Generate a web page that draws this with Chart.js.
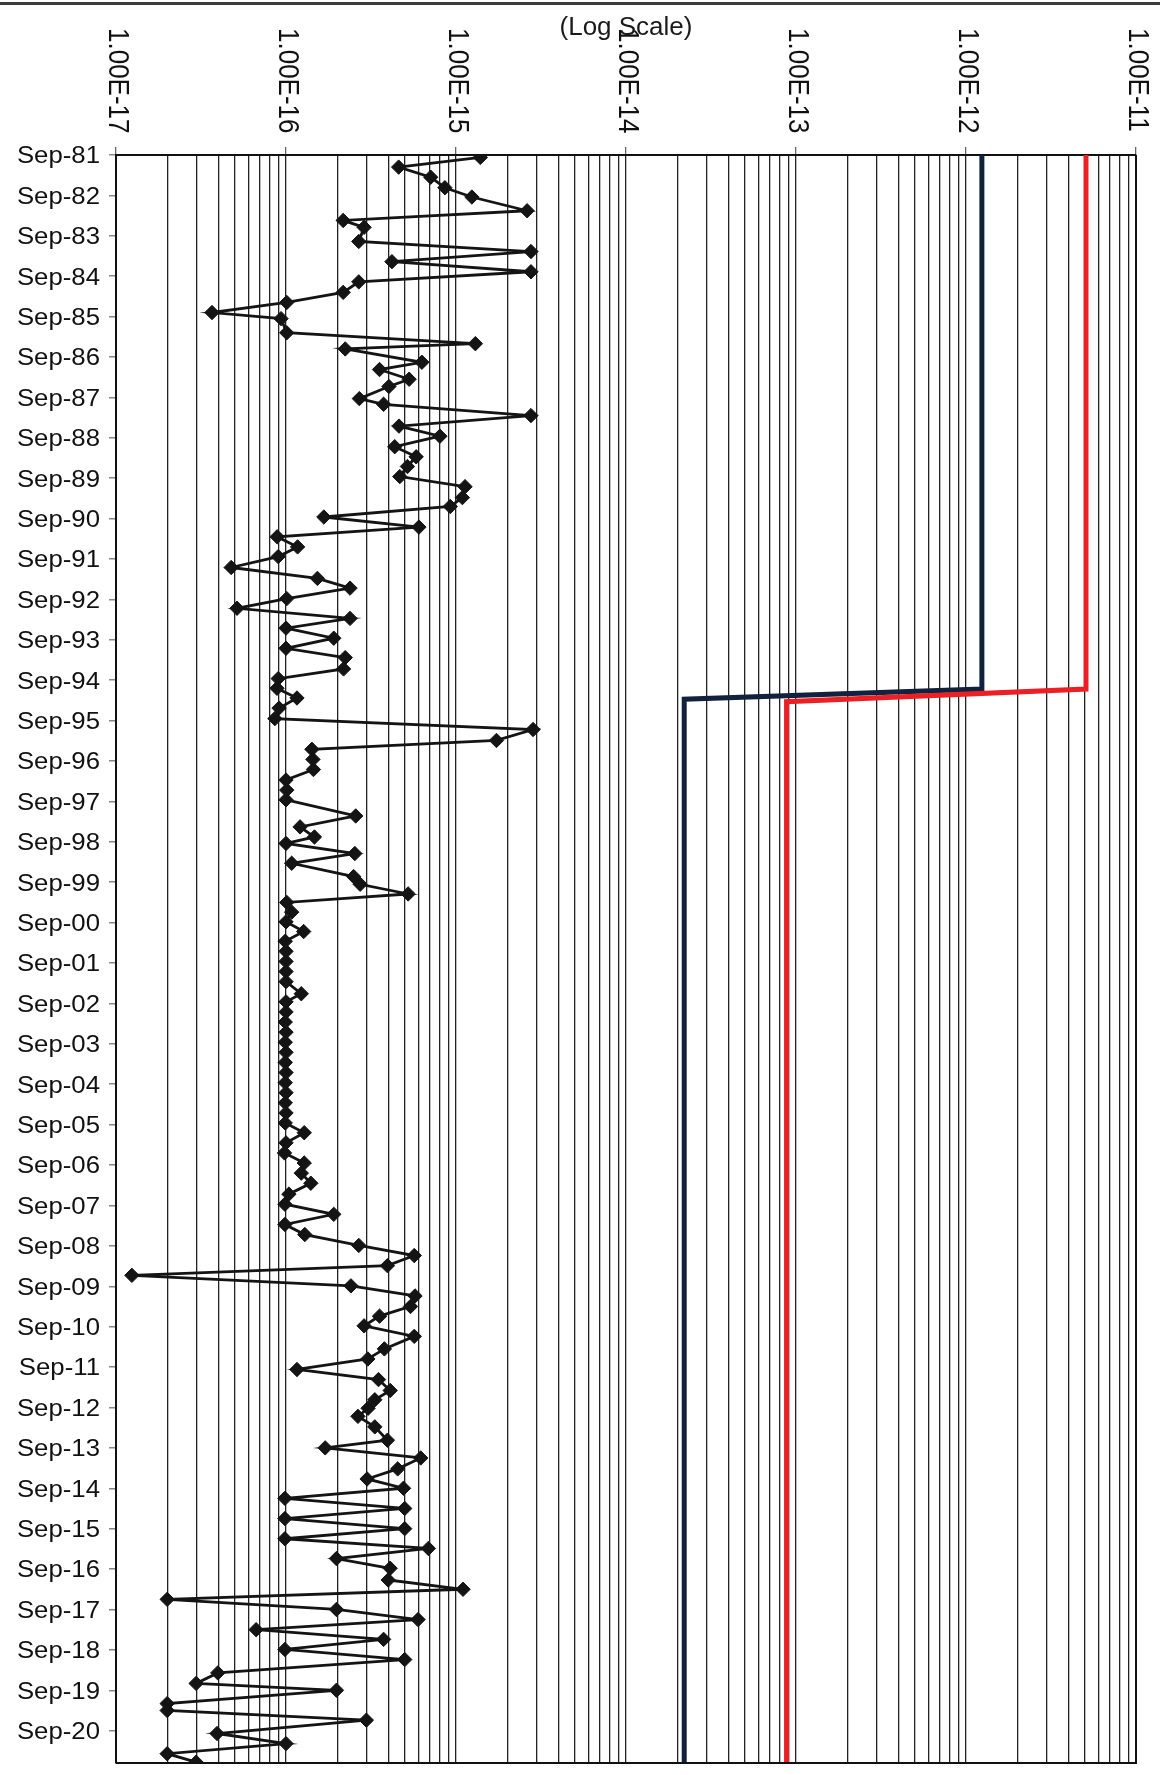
<!DOCTYPE html>
<html>
<head>
<meta charset="utf-8">
<script src="https://cdn.jsdelivr.net/npm/chart.js@4.4.0/dist/chart.umd.min.js"></script>
<style>
  html, body { margin: 0; padding: 0; background: #ffffff; }
  #wrap { position: relative; width: 1160px; height: 1775px; }
  canvas { display: block; }
</style>
</head>
<body>
<div id="wrap"><canvas id="chart" width="1160" height="1775"></canvas></div>
<script>
// ---------------- DATA ----------------
// y-axis category ticks (September of each year)
const yTickLabels = [
  'Sep-81','Sep-82','Sep-83','Sep-84','Sep-85','Sep-86','Sep-87','Sep-88','Sep-89','Sep-90',
  'Sep-91','Sep-92','Sep-93','Sep-94','Sep-95','Sep-96','Sep-97','Sep-98','Sep-99','Sep-00',
  'Sep-01','Sep-02','Sep-03','Sep-04','Sep-05','Sep-06','Sep-07','Sep-08','Sep-09','Sep-10',
  'Sep-11','Sep-12','Sep-13','Sep-14','Sep-15','Sep-16','Sep-17','Sep-18','Sep-19','Sep-20'
];
const firstTickYear = 1981.67;   // Sep-81 as decimal year
const lastAxisYear = 2021.47;    // bottom of the time axis

// x-axis (log) decade ticks and their labels
const xTickValues = [1e-17, 1e-16, 1e-15, 1e-14, 1e-13, 1e-12, 1e-11];
const xTickLabels = ['1.00E-17','1.00E-16','1.00E-15','1.00E-14','1.00E-13','1.00E-12','1.00E-11'];

// measured series: sample date (decimal year) and value
const sampleYears = [
  1981.73,1981.97,1982.22,1982.48,1982.71,1983.05,1983.29,1983.46,1983.81,1984.06,
  1984.31,1984.56,1984.81,1985.07,1985.32,1985.57,1985.72,1986.07,1986.34,1986.47,
  1986.80,1986.98,1987.22,1987.40,1987.70,1987.84,1988.12,1988.38,1988.63,1988.89,
  1989.14,1989.38,1989.63,1989.88,1990.15,1990.37,1990.63,1990.88,1991.12,1991.37,
  1991.61,1991.88,1992.15,1992.39,1992.65,1992.89,1993.14,1993.38,1993.63,1993.88,
  1994.11,1994.39,1994.63,1994.87,1995.11,1995.36,1995.62,1995.89,1996.16,1996.38,
  1996.63,1996.88,1997.14,1997.39,1997.63,1998.03,1998.30,1998.55,1998.71,1998.96,
  1999.20,1999.53,1999.72,1999.96,2000.17,2000.41,2000.65,2000.89,2001.13,2001.38,
  2001.63,2001.88,2002.13,2002.43,2002.63,2002.88,2003.13,2003.38,2003.63,2003.88,
  2004.13,2004.38,2004.63,2004.88,2005.13,2005.38,2005.63,2005.87,2006.12,2006.37,
  2006.62,2006.87,2007.12,2007.39,2007.64,2007.89,2008.14,2008.39,2008.66,2008.91,
  2009.16,2009.40,2009.66,2009.91,2010.17,2010.41,2010.65,2010.91,2011.22,2011.47,
  2011.73,2011.98,2012.25,2012.48,2012.69,2012.89,2013.15,2013.48,2013.67,2013.92,
  2014.19,2014.44,2014.67,2014.92,2015.17,2015.42,2015.67,2015.92,2016.16,2016.41,
  2016.65,2016.94,2017.17,2017.42,2017.67,2017.92,2018.17,2018.41,2018.66,2018.91,
  2019.24,2019.50,2019.67,2020.00,2020.17,2020.41,2020.74,2020.99,2021.24,2021.45
];
const sampleValues = [
  1.39e-15,4.6e-16,7.1e-16,8.6e-16,1.24e-15,2.62e-15,2.17e-16,2.88e-16,2.68e-16,2.76e-15,
  4.2e-16,2.76e-15,2.68e-16,2.17e-16,1.01e-16,3.67e-17,9.35e-17,1.01e-16,1.30e-15,2.23e-16,
  6.3e-16,3.55e-16,5.3e-16,4.03e-16,2.7e-16,3.75e-16,2.76e-15,4.62e-16,8.04e-16,4.36e-16,
  5.83e-16,5.18e-16,4.67e-16,1.13e-15,1.09e-15,9.25e-16,1.67e-16,6.05e-16,8.87e-17,1.17e-16,
  9.0e-17,4.76e-17,1.53e-16,2.38e-16,1.01e-16,5.15e-17,2.38e-16,1.0e-16,1.91e-16,1.0e-16,
  2.23e-16,2.18e-16,9.0e-17,8.85e-17,1.16e-16,9.1e-17,8.6e-17,2.84e-15,1.73e-15,1.42e-16,
  1.44e-16,1.45e-16,1.0e-16,1.01e-16,1.0e-16,2.57e-16,1.21e-16,1.47e-16,1.0e-16,2.54e-16,
  1.08e-16,2.5e-16,2.73e-16,5.23e-16,1.01e-16,1.08e-16,1.0e-16,1.27e-16,9.9e-17,1.0e-16,
  1.0e-16,1.0e-16,1.0e-16,1.23e-16,1.0e-16,1.0e-16,9.9e-17,1.0e-16,9.9e-17,1.0e-16,
  9.9e-17,1.0e-16,9.9e-17,1.0e-16,9.9e-17,1.0e-16,9.9e-17,1.28e-16,1.0e-16,9.8e-17,
  1.28e-16,1.23e-16,1.4e-16,1.04e-16,9.85e-17,1.91e-16,9.85e-17,1.29e-16,2.68e-16,5.68e-16,
  3.95e-16,1.24e-17,2.41e-16,5.74e-16,5.4e-16,3.55e-16,2.88e-16,5.68e-16,3.79e-16,3.03e-16,
  1.16e-16,3.5e-16,4.1e-16,3.33e-16,3.04e-16,2.65e-16,3.33e-16,3.95e-16,1.7e-16,6.2e-16,
  4.54e-16,3.0e-16,4.91e-16,9.85e-17,4.99e-16,9.85e-17,4.99e-16,9.85e-17,6.88e-16,1.98e-16,
  4.1e-16,3.99e-16,1.1e-15,2.0e-17,1.98e-16,5.98e-16,6.67e-17,3.75e-16,9.85e-17,4.99e-16,
  3.97e-17,2.96e-17,1.98e-16,2.0e-17,2.0e-17,2.97e-16,3.93e-17,1.0e-16,2.0e-17,2.96e-17
];

// limit lines (step lines)
const navyLimitYears  = [1981.67, 1994.89, 1995.14, 2021.47];
const navyLimitValues = [1.24e-12, 1.24e-12, 2.2e-14, 2.2e-14];
const redLimitYears   = [1981.67, 1994.89, 1995.20, 2021.47];
const redLimitValues  = [5.08e-12, 5.08e-12, 8.8e-14, 8.8e-14];

// ---------------- CHART ----------------
const FONT = '"Liberation Sans", Arial, Helvetica, sans-serif';

// gridline values: 1..9 x each decade, plus the last decade
const xGridValues = [];
for (let e = -17; e <= -12; e++) {
  for (let m = 1; m <= 9; m++) xGridValues.push(Number(m + 'e' + e));
}
xGridValues.push(1e-11);
const isDecade = v => xTickValues.some(d => Math.abs(v - d) / d < 1e-6);

const pts = (ys, xs) => ys.map((y, i) => ({ x: xs[i], y: y }));

const decor = {
  id: 'decor',
  afterDraw(chart) {
    const { ctx, chartArea: a, scales: { x, y } } = chart;
    ctx.save();
    // page rule at top
    ctx.fillStyle = '#3c3c3c';
    ctx.fillRect(0, 2, 1160, 3);
    // right & bottom plot border
    ctx.strokeStyle = '#111';
    ctx.lineWidth = 2;
    ctx.beginPath();
    ctx.moveTo(a.left, a.bottom);
    ctx.lineTo(a.right, a.bottom);
    ctx.lineTo(a.right, a.top);
    ctx.stroke();
    // rotated x tick labels (reading top to bottom)
    ctx.fillStyle = '#111';
    ctx.font = '26px ' + FONT;
    ctx.textAlign = 'left';
    ctx.textBaseline = 'middle';
    xTickValues.forEach((v, i) => {
      const px = x.getPixelForValue(v);
      ctx.save();
      ctx.translate(px + 1, 28);
      ctx.rotate(Math.PI / 2);
      ctx.scale(1, 1.15);
      ctx.fillText(xTickLabels[i], 0, 0);
      ctx.restore();
    });
    // y tick labels
    ctx.font = '23px ' + FONT;
    ctx.textAlign = 'right';
    ctx.textBaseline = 'middle';
    y.ticks.forEach((t, i) => {
      const py = y.getPixelForValue(t.value);
      ctx.save();
      ctx.translate(100, py + 2);
      ctx.scale(1.12, 1);
      ctx.fillText(yTickLabels[i], 0, 0);
      ctx.restore();
    });
    ctx.restore();
  }
};

new Chart(document.getElementById('chart'), {
  type: 'scatter',
  data: {
    datasets: [
      {
        label: 'Limit (navy)',
        data: pts(navyLimitYears, navyLimitValues),
        showLine: true,
        borderColor: '#12223e',
        borderWidth: 5,
        pointRadius: 0,
        borderJoinStyle: 'miter',
        order: 2
      },
      {
        label: 'Limit (red)',
        data: pts(redLimitYears, redLimitValues),
        showLine: true,
        borderColor: '#ec1f24',
        borderWidth: 5,
        pointRadius: 0,
        borderJoinStyle: 'miter',
        order: 1
      },
      {
        label: 'Measured',
        data: pts(sampleYears, sampleValues),
        showLine: true,
        borderColor: '#141414',
        borderWidth: 2.8,
        pointStyle: 'rectRot',
        pointRadius: 7.2,
        pointBackgroundColor: '#141414',
        pointBorderColor: '#141414',
        pointBorderWidth: 1,
        order: 0
      }
    ]
  },
  options: {
    responsive: false,
    animation: false,
    devicePixelRatio: 1,
    layout: { padding: { left: 0, top: 0, right: 24, bottom: 12 } },
    plugins: { legend: { display: false }, tooltip: { enabled: false } },
    scales: {
      x: {
        type: 'logarithmic',
        position: 'top',
        min: 1e-17,
        max: 1e-11,
        afterBuildTicks: s => { s.ticks = xGridValues.map(v => ({ value: v, major: isDecade(v) })); },
        afterFit: s => { s.height = 155; },
        ticks: { display: false },
        grid: {
          color: '#222',
          lineWidth: 1.3,
          drawTicks: true,
          tickLength: 8,
          tickColor: c => (c.tick && isDecade(c.tick.value)) ? '#666' : 'rgba(0,0,0,0)'
        },
        border: { display: true, color: '#111', width: 2 },
        title: {
          display: true,
          text: '(Log Scale)',
          color: '#1a1a1a',
          font: { family: FONT, size: 26 },
          padding: { top: 12, bottom: 0 }
        }
      },
      y: {
        type: 'linear',
        reverse: true,
        min: firstTickYear,
        max: lastAxisYear,
        afterBuildTicks: s => { s.ticks = yTickLabels.map((l, i) => ({ value: firstTickYear + i })); },
        afterFit: s => { s.width = 116; },
        ticks: { display: false, callback: (v, i) => yTickLabels[i] },
        grid: {
          drawOnChartArea: false,
          drawTicks: true,
          tickLength: 7,
          tickColor: '#888',
          lineWidth: 1.5
        },
        border: { display: true, color: '#111', width: 2 }
      }
    }
  },
  plugins: [decor]
});
</script>
</body>
</html>
